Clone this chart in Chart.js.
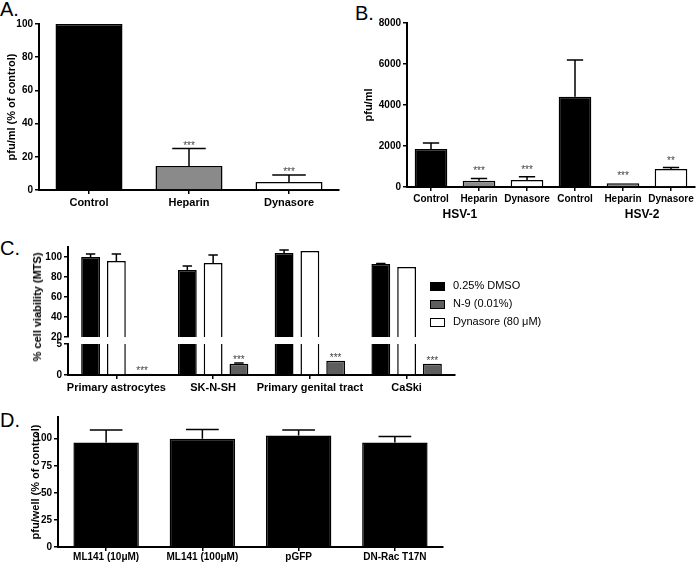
<!DOCTYPE html>
<html>
<head>
<meta charset="utf-8">
<script src="https://cdn.jsdelivr.net/npm/chart.js@4.4.1/dist/chart.umd.min.js"></script>
<style>
body { margin: 0; background: #fff; }
#fig { position: relative; width: 696px; height: 563px; overflow: hidden; font-family: 'Liberation Sans', Arial, sans-serif; }
canvas { position: absolute; }
.letter { position: absolute; font-size: 20px; line-height: 20px; }
#titleC { position: absolute; left: 37px; top: 307px; transform: translate(-50%, -50%) rotate(-90deg); white-space: nowrap;
  font: bold 11px 'Liberation Sans', Arial, sans-serif; }
#legendC { position: absolute; left: 430px; top: 276px; font-size: 11px; }
#legendC div { height: 18px; line-height: 18px; white-space: nowrap; }
#legendC span { display: inline-block; width: 13px; height: 7px; border: 1px solid #000; margin-right: 8px; vertical-align: middle; }
</style>
</head>
<body>
<div id="fig">
  <div class="letter" style="left:0px;top:-1px">A.</div>
  <div class="letter" style="left:355px;top:3px">B.</div>
  <div class="letter" style="left:0px;top:238px">C.</div>
  <div class="letter" style="left:0px;top:410px">D.</div>
  <canvas id="chartA" width="345" height="215" style="left:0px;top:0px"></canvas>
  <canvas id="chartB" width="351" height="222" style="left:345px;top:0px"></canvas>
  <canvas id="chartCtop" width="460" height="118" style="left:0px;top:232px"></canvas>
  <canvas id="chartCbottom" width="460" height="59" style="left:0px;top:336px"></canvas>
  <canvas id="chartD" width="450" height="158" style="left:0px;top:405px"></canvas>
  <div id="titleC">% cell viability (MTS)</div>
  <div id="legendC"></div>
</div>
<script>
// A. plaque reduction
var treatmentsA = ['Control', 'Heparin', 'Dynasore'];
var valuesA = [100, 14.5, 4.8];
var errorsA = [0, 10.5, 4.2];
var starsA = ['', '***', '***'];
var colorsA = ['#000000', '#8a8a8a', '#ffffff'];
var ticksA = [0, 20, 40, 60, 80, 100];

// B. HSV-1 / HSV-2 titres
var treatmentsB = ['Control', 'Heparin', 'Dynasore', 'Control', 'Heparin', 'Dynasore'];
var virusesB = ['HSV-1', 'HSV-2'];
var valuesB = [1850, 300, 340, 4400, 180, 880];
var errorsB = [300, 120, 160, 1800, 0, 70];
var starsB = ['', '***', '***', '', '***', '**'];
var colorsB = ['#000000', '#8a8a8a', '#ffffff', '#000000', '#8a8a8a', '#ffffff'];
var ticksB = [0, 2000, 4000, 6000, 8000];

// C. cell viability (bars drawn DMSO, Dynasore, N-9)
var cellLines = ['Primary astrocytes', 'SK-N-SH', 'Primary genital tract', 'CaSki'];
var seriesC = ['0.25% DMSO', 'Dynasore (80 μM)', 'N-9 (0.01%)'];
var dmsoValues = [100, 87, 104, 93];
var dmsoErrors = [3, 4, 3, 0.5];
var dynasoreValues = [96, 94, 106, 90];
var dynasoreErrors = [7, 8, 0, 0];
var n9Values = [0.2, 1.8, 2.3, 1.8];
var n9Errors = [0, 0.15, 0, 0];
var n9Stars = ['***', '***', '***', '***'];
var colorsC = ['#000000', '#ffffff', '#5e5e5e'];
var legendOrderC = [0, 2, 1];
var ticksCtop = [20, 40, 60, 80, 100];
var ticksCbottom = [0, 5];

// D. Rac1 inhibition
var treatmentsD = ['ML141 (10μM)', 'ML141 (100μM)', 'pGFP', 'DN-Rac T17N'];
var valuesD = [96.5, 100, 103, 96.5];
var errorsD = [11.5, 8.5, 5, 5.5];
var ticksD = [0, 25, 50, 75, 100];

var family = "'Liberation Sans', Arial, sans-serif";
Chart.defaults.font.family = family;
Chart.defaults.color = '#000';
Chart.defaults.animation = false;

// error whiskers (upper half only) plus significance stars
var errorBarPlugin = {
    id: 'errorBars',
    afterDatasetsDraw: function (chart, args, opts) {
        var ctx = chart.ctx;
        var y = chart.scales.y;
        var gap = opts.starGap || 6;
        chart.data.datasets.forEach(function (ds, di) {
            var meta = chart.getDatasetMeta(di);
            meta.data.forEach(function (bar, i) {
                var v = ds.data[i];
                if (v > y.max || v < y.min) return;
                var e = ds.errors ? ds.errors[i] : 0;
                var p = bar.getProps(['x', 'y', 'width'], true);
                var yTop = y.getPixelForValue(v + e);
                if (e > 0) {
                    ctx.save();
                    ctx.strokeStyle = '#000';
                    ctx.lineWidth = 1.5;
                    ctx.beginPath();
                    ctx.moveTo(p.x, p.y);
                    ctx.lineTo(p.x, yTop);
                    ctx.moveTo(p.x - p.width * 0.25, yTop);
                    ctx.lineTo(p.x + p.width * 0.25, yTop);
                    ctx.stroke();
                    ctx.restore();
                }
                if (ds.stars && ds.stars[i]) {
                    ctx.save();
                    ctx.fillStyle = '#444';
                    ctx.font = '10px ' + family;
                    ctx.textAlign = 'center';
                    ctx.textBaseline = 'alphabetic';
                    ctx.fillText(ds.stars[i], p.x, yTop - gap + 6);
                    ctx.restore();
                }
            });
        });
    }
};

var groupLabelPlugin = {
    id: 'groupLabels',
    afterDraw: function (chart, args, opts) {
        if (!opts.labels) return;
        var ctx = chart.ctx;
        var x = chart.scales.x;
        ctx.save();
        ctx.font = 'bold 12px ' + family;
        ctx.textAlign = 'center';
        ctx.textBaseline = 'middle';
        ctx.fillStyle = '#000';
        opts.labels.forEach(function (t, i) {
            ctx.fillText(t, x.getPixelForValue(opts.at[i]), chart.chartArea.bottom + opts.offset);
        });
        ctx.restore();
    }
};
Chart.register(errorBarPlugin, groupLabelPlugin);

function xAxis(h, size, pad) {
    return {
        type: 'category',
        afterFit: function (s) { s.height = h; },
        border: { display: true, color: '#000', width: 2 },
        grid: { display: true, drawOnChartArea: false, offset: false, tickLength: 4, color: '#000', lineWidth: 1.5 },
        ticks: { autoSkip: false, maxRotation: 0, padding: pad === undefined ? 2 : pad, font: { size: size, weight: 'bold' } }
    };
}

function yAxis(w, min, max, list, title) {
    return {
        min: min,
        max: max,
        afterFit: function (s) { s.width = w; },
        afterBuildTicks: function (s) { s.ticks = list.map(function (v) { return { value: v }; }); },
        border: { display: true, color: '#000', width: 2 },
        grid: { drawOnChartArea: false, tickLength: 4, color: '#000', lineWidth: 1.5 },
        ticks: { padding: 2, font: { size: 10, weight: 'bold' }, callback: function (v) { return String(v); } },
        title: { display: !!title, text: title || '', padding: 0, font: { size: 11, weight: 'bold' } }
    };
}

function barOptions(padding, x, y, plugins) {
    plugins = plugins || {};
    plugins.legend = { display: false };
    plugins.tooltip = { enabled: false };
    return {
        responsive: false,
        animation: false,
        layout: { padding: padding },
        scales: { x: x, y: y },
        plugins: plugins
    };
}

new Chart(document.getElementById('chartA'), {
    type: 'bar',
    data: {
        labels: treatmentsA,
        datasets: [{
            data: valuesA, errors: errorsA, stars: starsA,
            backgroundColor: colorsA, borderColor: '#000', borderWidth: 1.5,
            barPercentage: 0.67, categoryPercentage: 1
        }]
    },
    options: barOptions({ left: 5, right: 6, top: 24, bottom: 0 }, xAxis(25, 11),
        yAxis(34, 0, 100, ticksA, 'pfu/ml (% of control)'), { errorBars: { starGap: 6 } })
});

new Chart(document.getElementById('chartB'), {
    type: 'bar',
    data: {
        labels: treatmentsB,
        datasets: [{
            data: valuesB, errors: errorsB, stars: starsB,
            backgroundColor: colorsB, borderColor: '#000', borderWidth: 1.5,
            barPercentage: 0.68, categoryPercentage: 1
        }]
    },
    options: barOptions({ left: 17, right: 1, top: 23, bottom: 0 }, xAxis(35, 10),
        yAxis(45, 0, 8000, ticksB, 'pfu/ml'),
        { errorBars: { starGap: 10 }, groupLabels: { labels: virusesB, at: [0.6, 4.4], offset: 28 } })
});

function datasetsC() {
    var vals = [dmsoValues, dynasoreValues, n9Values];
    var errs = [dmsoErrors, dynasoreErrors, n9Errors];
    return vals.map(function (v, i) {
        return {
            label: seriesC[i], data: v, errors: errs[i], stars: i === 2 ? n9Stars : null,
            backgroundColor: colorsC[i], borderColor: '#000', borderWidth: 1.5,
            barPercentage: 0.73, categoryPercentage: 0.8, clip: 0
        };
    });
}

var xTop = xAxis(0, 11);
xTop.display = false;
new Chart(document.getElementById('chartCtop'), {
    type: 'bar',
    data: { labels: cellLines, datasets: datasetsC() },
    options: barOptions({ left: 0, right: 5, top: 15, bottom: 13 }, xTop,
        yAxis(68, 20, 110, ticksCtop, null), { errorBars: { starGap: 6 } })
});

new Chart(document.getElementById('chartCbottom'), {
    type: 'bar',
    data: { labels: cellLines, datasets: datasetsC() },
    options: barOptions({ left: 0, right: 5, top: 8, bottom: 0 }, xAxis(20, 11),
        yAxis(68, 0, 5, ticksCbottom, null), { errorBars: { starGap: 6 } })
});

new Chart(document.getElementById('chartD'), {
    type: 'bar',
    data: {
        labels: treatmentsD,
        datasets: [{
            data: valuesD, errors: errorsD,
            backgroundColor: '#000', borderColor: '#000', borderWidth: 1.5,
            barPercentage: 0.68, categoryPercentage: 1
        }]
    },
    options: barOptions({ left: 29, right: 7, top: 12, bottom: 0 }, xAxis(16, 10, 0),
        yAxis(29, 0, 120, ticksD, 'pfu/well (% of control)'), { errorBars: { starGap: 6 } })
});

// legend for panel C
var legendC = document.getElementById('legendC');
legendOrderC.forEach(function (k) {
    var row = document.createElement('div');
    var box = document.createElement('span');
    box.style.background = colorsC[k];
    row.appendChild(box);
    row.appendChild(document.createTextNode(seriesC[k]));
    legendC.appendChild(row);
});
</script>
</body>
</html>
